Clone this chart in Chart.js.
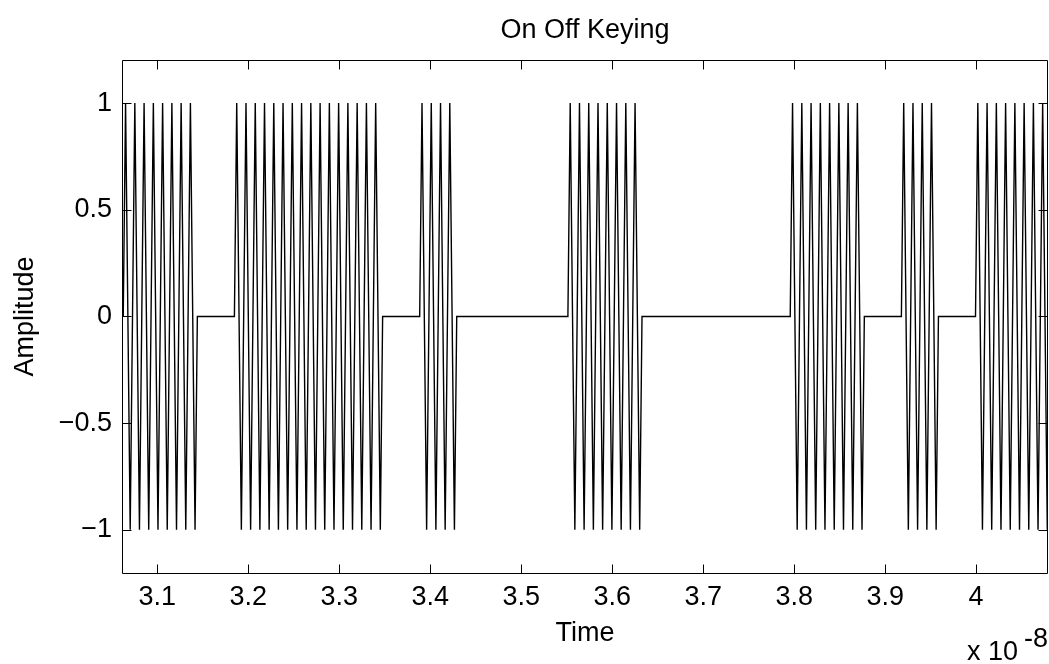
<!DOCTYPE html>
<html>
<head>
<meta charset="utf-8">
<title>On Off Keying</title>
<script src="https://cdn.jsdelivr.net/npm/chart.js@4.4.1/dist/chart.umd.min.js"></script>
<style>
  html, body { margin: 0; padding: 0; background: #fff; }
  #wrap { width: 1049px; height: 664px; }
</style>
</head>
<body>
<div id="wrap"><canvas id="chart" width="1049" height="664"></canvas></div>
<script>
// Bit sequence, left to right (one bit = 4 carrier cycles)
const bits = [1, 1, 0, 1, 1, 1, 1, 0, 1, 0, 0, 0, 1, 1, 0, 0, 0, 0, 1, 1, 0, 1, 0, 1, 1];
// one carrier cycle as sampled in the plot (4 samples per cycle)
const carrierCycle = [0, 1, 0, -1];
const cyclesPerBit = 4;
// time axis is in units of 1e-8 s
const startTime = 3.06257;
const bitTime = 0.040728;

const xRange = [3.0612, 4.0790];
const yRange = [-1.2, 1.2];
const xTicks = [3.1, 3.2, 3.3, 3.4, 3.5, 3.6, 3.7, 3.8, 3.9, 4.0];
const xTickLabels = ['3.1', '3.2', '3.3', '3.4', '3.5', '3.6', '3.7', '3.8', '3.9', '4'];
const yTicks = [-1, -0.5, 0, 0.5, 1];
const yTickLabels = ['\u22121', '\u22120.5', '0', '0.5', '1'];

const FONT = "'Liberation Sans', Arial, Helvetica, sans-serif";
const FONT_SIZE = 27;

// on-off keyed samples: carrier while bit is 1, zero while bit is 0
const samplesPerBit = carrierCycle.length * cyclesPerBit;
const sampleStep = bitTime / samplesPerBit;
const points = [];
bits.forEach((b, i) => {
  for (let k = 0; k < samplesPerBit; k++) {
    points.push({
      x: startTime + (i * samplesPerBit + k) * sampleStep,
      y: b ? carrierCycle[k % carrierCycle.length] : 0,
    });
  }
});

function fixTicks(values) {
  return function (scale) {
    scale.ticks = values.map(v => ({ value: v }));
  };
}

// MATLAB style box with inward ticks on all four sides, plus the x exponent
const matlabFrame = {
  id: 'matlabFrame',
  afterDraw(chart) {
    const { ctx, chartArea: a, scales } = chart;
    const tickLen = 9;
    const l = Math.round(a.left) + 0.5;
    const r = Math.round(a.right) - 0.5;
    const t = Math.round(a.top) + 0.5;
    const b = Math.round(a.bottom) + 0.5;
    ctx.save();
    ctx.strokeStyle = '#000';
    ctx.lineWidth = 1;
    ctx.beginPath();
    ctx.rect(l, t, r - l, b - t);
    xTicks.forEach(v => {
      const px = Math.round(scales.x.getPixelForValue(v)) + 0.5;
      ctx.moveTo(px, b); ctx.lineTo(px, b - tickLen);
      ctx.moveTo(px, t); ctx.lineTo(px, t + tickLen);
    });
    yTicks.forEach(v => {
      const py = Math.round(scales.y.getPixelForValue(v)) + 0.5;
      ctx.moveTo(l, py); ctx.lineTo(l + tickLen, py);
      ctx.moveTo(r, py); ctx.lineTo(r - tickLen, py);
    });
    ctx.stroke();

    ctx.fillStyle = '#000';
    ctx.font = FONT_SIZE + 'px ' + FONT;
    ctx.textAlign = 'left';
    ctx.textBaseline = 'alphabetic';
    ctx.fillText('x 10', 967, 660);
    ctx.fillText('-8', 1024, 647);
    ctx.restore();
  },
};

new Chart(document.getElementById('chart'), {
  type: 'line',
  data: {
    datasets: [{
      label: 'OOK',
      data: points,
      borderColor: '#000',
      borderWidth: 1.4,
      pointRadius: 0,
      tension: 0,
      fill: false,
    }],
  },
  options: {
    responsive: false,
    animation: false,
    devicePixelRatio: 1,
    layout: { padding: { left: 0, right: 1, top: 0, bottom: 0 } },
    plugins: {
      legend: { display: false },
      tooltip: { enabled: false },
      title: {
        display: true,
        text: 'On Off Keying',
        color: '#000',
        fullSize: false,
        font: { family: FONT, size: FONT_SIZE, weight: 'normal' },
        padding: { top: 14, bottom: 14 },
      },
    },
    scales: {
      x: {
        type: 'linear',
        min: xRange[0],
        max: xRange[1],
        afterBuildTicks: fixTicks(xTicks),
        afterFit(scale) { scale.height = 91.5; },
        grid: { display: false, drawTicks: false },
        border: { display: false },
        ticks: {
          color: '#000',
          padding: 9,
          maxRotation: 0,
          font: { family: FONT, size: FONT_SIZE },
          callback: v => xTickLabels[xTicks.indexOf(v)],
        },
        title: {
          display: true,
          text: 'Time',
          color: '#000',
          font: { family: FONT, size: FONT_SIZE },
          padding: { top: 0, bottom: 14 },
        },
      },
      y: {
        type: 'linear',
        min: yRange[0],
        max: yRange[1],
        afterBuildTicks: fixTicks(yTicks),
        afterFit(scale) { scale.width = 122; },
        grid: { display: false, drawTicks: false },
        border: { display: false },
        ticks: {
          color: '#000',
          padding: 10,
          font: { family: FONT, size: FONT_SIZE },
          callback: v => yTickLabels[yTicks.indexOf(v)],
        },
        title: {
          display: true,
          text: 'Amplitude',
          color: '#000',
          font: { family: FONT, size: FONT_SIZE },
          padding: { top: 9, bottom: 0 },
        },
      },
    },
  },
  plugins: [matlabFrame],
});
</script>
</body>
</html>
